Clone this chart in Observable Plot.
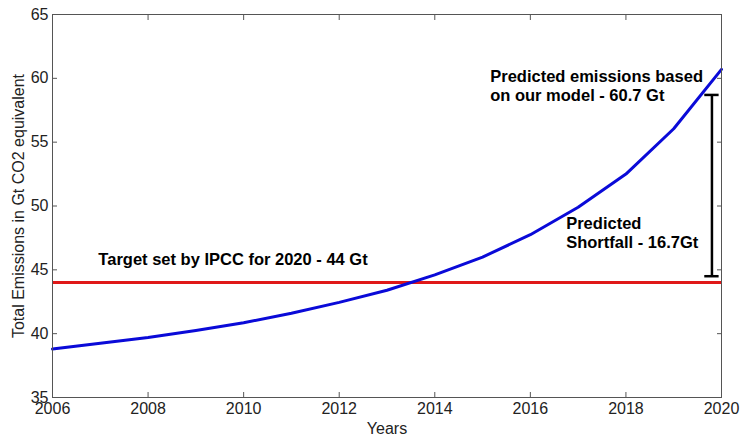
<!DOCTYPE html>
<html>
<head>
<meta charset="utf-8">
<script src="https://cdn.jsdelivr.net/npm/d3@7"></script>
<script src="https://cdn.jsdelivr.net/npm/@observablehq/plot@0.6"></script>
<style>
  html, body { margin: 0; padding: 0; background: #fff; }
  #chart svg { display: block; }
</style>
</head>
<body>
<div id="chart"></div>
<script>
const years = [2006, 2007, 2008, 2009, 2010, 2011, 2012, 2013, 2014, 2015, 2016, 2017, 2018, 2019, 2020];
const emissions = [38.8, 39.25, 39.7, 40.25, 40.85, 41.6, 42.45, 43.4, 44.6, 46.0, 47.75, 49.9, 52.5, 56.05, 60.7];
const target = 44;
const xTicks = [2006, 2008, 2010, 2012, 2014, 2016, 2018, 2020];
const yTicks = [35, 40, 45, 50, 55, 60, 65];

const shortfallX = 2019.8;
const shortfallLow = 44.5;
const shortfallHigh = 58.7;
const capHalf = 0.15;

const noteText = ["Target set by IPCC for 2020 - 44 Gt", "Predicted emissions based\non our model - 60.7 Gt", "Predicted\nShortfall - 16.7Gt"];
const noteX = [2006.96, 2015.16, 2016.75];
const noteY = [45.89, 59.48, 47.95];

const series = years.map((y, i) => ({year: y, value: emissions[i]}));
const notes = noteText.map((t, i) => ({text: t, x: noteX[i], y: noteY[i]}));
const caps = [shortfallLow, shortfallHigh];

const font = "Liberation Sans, Arial, sans-serif";
const axisColor = "#555";
const labelColor = "#222";

const chart = Plot.plot({
  width: 740,
  height: 437,
  marginLeft: 52,
  marginRight: 19,
  marginTop: 14,
  marginBottom: 40,
  style: {fontFamily: font, fontSize: "16px", background: "#fff", color: labelColor},
  x: {domain: [2006, 2020]},
  y: {domain: [35, 65]},
  marks: [
    Plot.ruleY([target], {x1: 2006, x2: 2020, stroke: "#e01818", strokeWidth: 3}),
    Plot.line(series, {x: "year", y: "value", stroke: "#0a0ad8", strokeWidth: 3}),
    Plot.ruleX([shortfallX], {y1: shortfallLow, y2: shortfallHigh, stroke: "#000", strokeWidth: 2.5}),
    Plot.ruleY(caps, {x1: shortfallX - capHalf, x2: shortfallX + capHalf, y: d => d, stroke: "#000", strokeWidth: 2.5}),
    Plot.text(notes, {x: "x", y: "y", text: "text", textAnchor: "start", lineAnchor: "middle", lineHeight: 1.17, fontWeight: "bold", fontSize: 16.5, fill: "#000"}),
    Plot.frame({stroke: axisColor, strokeWidth: 1}),
    Plot.axisX({ticks: xTicks, tickSize: 0, tickPadding: 5, tickFormat: d => String(d), fontSize: 16, fill: labelColor, label: "Years", labelAnchor: "center", labelArrow: "none", labelOffset: 36}),
    Plot.axisX({ticks: xTicks, tickSize: -5, tickFormat: () => "", stroke: axisColor, label: null}),
    Plot.axisX({ticks: xTicks, anchor: "top", tickSize: -5, tickFormat: () => "", stroke: axisColor, label: null}),
    Plot.axisY({ticks: yTicks, tickSize: 0, tickPadding: 4, tickFormat: d => String(d), fontSize: 16, fill: labelColor, label: "Total Emissions in Gt CO2 equivalent", labelAnchor: "center", labelArrow: "none", labelOffset: 40}),
    Plot.axisY({ticks: yTicks, tickSize: -5, tickFormat: () => "", stroke: axisColor, label: null}),
    Plot.axisY({ticks: yTicks, anchor: "right", tickSize: -5, tickFormat: () => "", stroke: axisColor, label: null})
  ]
});
document.getElementById("chart").appendChild(chart);
</script>
</body>
</html>
